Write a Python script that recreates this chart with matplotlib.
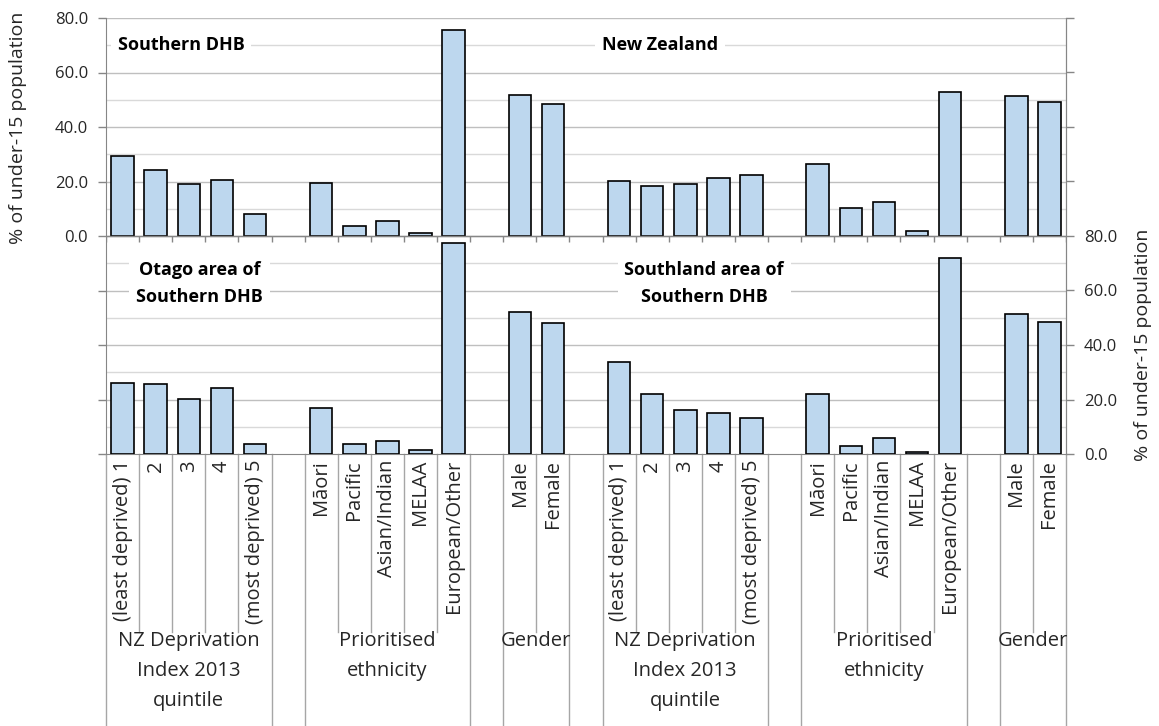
import matplotlib.pyplot as plt
from matplotlib.ticker import FixedLocator, FuncFormatter
import matplotlib.transforms as mtransforms

plt.rcParams['font.family'] = ['Open Sans', 'DejaVu Sans']

# Categorías y datos
dep_labels = ['(least deprived) 1', '2', '3', '4', '(most deprived) 5']
eth_labels = ['Māori', 'Pacific', 'Asian/Indian', 'MELAA', 'European/Other']
gender_labels = ['Male', 'Female']
group_names = ['NZ Deprivation\nIndex 2013\nquintile', 'Prioritised\nethnicity', 'Gender']

southern = [29.4, 24.2, 18.9, 20.7, 8.2, 19.5, 3.6, 5.4, 1.2, 75.5, 51.9, 48.3]
nz = [20.1, 18.3, 18.9, 21.2, 22.5, 26.6, 10.1, 12.5, 1.8, 53.0, 51.4, 49.0]
otago = [26.2, 25.6, 20.3, 24.4, 3.8, 16.7, 3.8, 4.9, 1.4, 77.5, 52.1, 47.9]
southland = [33.8, 22.1, 16.1, 15.0, 13.1, 22.0, 3.1, 6.0, 0.7, 72.1, 51.5, 48.5]

panel_titles = ['Southern DHB', 'New Zealand', 'Otago area of\nSouthern DHB', 'Southland area of\nSouthern DHB']

# Construir el eje de categorías con huecos entre grupos
groups = []   # (inicio, n, nombre)
cats = []
for rep in range(2):
    if rep > 0:
        groups.append((len(cats), 1, ''))
        cats.append('')
    for gi, labs in enumerate([dep_labels, eth_labels, gender_labels]):
        if gi > 0:
            groups.append((len(cats), 1, ''))
            cats.append('')
        groups.append((len(cats), len(labs), group_names[gi]))
        cats.extend(labs)
pos = [i for i, c in enumerate(cats) if c != '']
pos_left = pos[:12]
pos_right = pos[12:]

W, H = 1159, 726
fig = plt.figure(figsize=(W / 100, H / 100), dpi=100)
x0, x1, ytop, ybot = 106, 1066, 18, 454
ax = fig.add_axes([x0 / W, 1 - ybot / H, (x1 - x0) / W, (ybot - ytop) / H])
ax.set_xlim(-0.5, len(cats) - 0.5)
ax.set_ylim(-80, 80)

# Líneas de cuadrícula
for v in range(-70, 81, 10):
    col = '#bfbfbf' if v % 20 == 0 else '#d9d9d9'
    ax.axhline(v, color=col, lw=1.0, zorder=0)

bar_kw = dict(width=0.68, color='#BDD7EE', edgecolor='black', linewidth=1.2, zorder=3)
ax.bar(pos_left, southern, bottom=0, **bar_kw)
ax.bar(pos_right, nz, bottom=0, **bar_kw)
ax.bar(pos_left, otago, bottom=-80, **bar_kw)
ax.bar(pos_right, southland, bottom=-80, **bar_kw)

# Línea del cero superior con marcas
ax.axhline(0, color='#868686', lw=1.0, zorder=4)
bounds = [i - 0.5 for i in range(len(cats) + 1)]
ax.vlines(bounds, -2.2, 0, color='#868686', lw=1.0, zorder=4)

for s in ['left', 'right', 'bottom']:
    ax.spines[s].set_color('#868686')
ax.spines['top'].set_visible(False)

# Eje izquierdo: 0-80 en la mitad superior
ax.yaxis.set_major_locator(FixedLocator(range(-80, 81, 20)))
ax.yaxis.set_major_formatter(FuncFormatter(lambda v, p: f'{v:.1f}' if v >= 0 else ''))
ax.tick_params(axis='y', direction='out', length=6, width=1, color='#868686',
               labelsize=12, labelcolor='#262626', pad=7)

# Eje derecho: 0-80 en la mitad inferior
ax2 = ax.twinx()
ax2.set_ylim(-80, 80)
ax2.yaxis.set_major_locator(FixedLocator(range(-80, 81, 20)))
ax2.yaxis.set_major_formatter(FuncFormatter(lambda v, p: f'{v + 80:.1f}' if v <= 0 else ''))
ax2.tick_params(axis='y', direction='out', length=6, width=1, color='#868686',
                labelsize=12, labelcolor='#262626', pad=7)
for s in ['left', 'top', 'bottom']:
    ax2.spines[s].set_visible(False)
ax2.spines['right'].set_color('#868686')

# Etiquetas de categoría y de grupo
ax.set_xticks([])
trans = mtransforms.blended_transform_factory(ax.transData, ax.transAxes)
ah = ybot - ytop
inner_end = -(632 - ybot) / ah
outer_end = -(H + 5 - ybot) / ah
for i, c in enumerate(cats):
    if c:
        ax.text(i, -6 / ah, c, rotation=90, rotation_mode='anchor', ha='right',
                va='center', fontsize=14.5, color='#262626', transform=trans)
group_edges = set()
for start, n, name in groups:
    group_edges.add(start - 0.5)
    group_edges.add(start + n - 0.5)
    if name:
        ax.text(start + (n - 1) / 2, -(631 - ybot) / ah, name, ha='center', va='top',
                fontsize=14.5, color='#262626', linespacing=1.68, transform=trans)
for b in bounds:
    end = outer_end if b in group_edges else inner_end
    ax.plot([b, b], [0, end], color='#a6a6a6', lw=1.0, transform=trans, clip_on=False)

# Títulos de los paneles
tb = dict(facecolor='white', edgecolor='none', pad=5)
ax.text(1.77, 70, panel_titles[0], ha='center', va='center', fontsize=13,
        fontweight='bold', bbox=tb, zorder=5)
ax.text(16.24, 70, panel_titles[1], ha='center', va='center', fontsize=13,
        fontweight='bold', bbox=tb, zorder=5)
ax.text(2.33, -17.5, panel_titles[2], ha='center', va='center', fontsize=13,
        fontweight='bold', linespacing=1.65, bbox=tb, zorder=5)
ax.text(17.57, -17.5, panel_titles[3], ha='center', va='center', fontsize=13,
        fontweight='bold', linespacing=1.65, bbox=tb, zorder=5)

fig.text(18 / W, 1 - 128 / H, '% of under-15 population', rotation=90, ha='center',
         va='center', fontsize=14, color='#262626')
fig.text(1143 / W, 1 - 345 / H, '% of under-15 population', rotation=90, ha='center',
         va='center', fontsize=14, color='#262626')

plt.savefig('out.png', dpi=100)
